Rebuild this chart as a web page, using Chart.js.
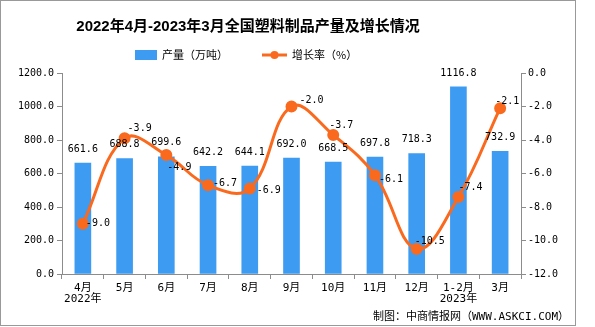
<!DOCTYPE html>
<html>
<head>
<meta charset="utf-8">
<script src="https://cdn.jsdelivr.net/npm/chart.js@4"></script>
<style>
  body { margin: 0; background: #fff; }
  canvas { display: block; }
</style>
</head>
<body>
<canvas id="chart" width="595" height="327"></canvas>
<script>
const months = [['4月', '2022年'], '5月', '6月', '7月', '8月', '9月', '10月', '11月', '12月', ['1-2月', '2023年'], '3月'];
const output = [661.6, 688.8, 699.6, 642.2, 644.1, 692.0, 668.5, 697.8, 718.3, 1116.8, 732.9];
const growth = [-9.0, -3.9, -4.9, -6.7, -6.9, -2.0, -3.7, -6.1, -10.5, -7.4, -2.1];

const BLUE = '#3D9BF2';
const ORANGE = '#FA6A1E';
const AXIS = '#8c8c8c';
const MONO = '"DejaVu Sans Mono", "Noto Sans CJK SC", monospace';

// where each growth label sits relative to its point
const growthLabelOffset = [[3, 0], [3, -10], [1, 12], [5, -2], [7, 2], [8, -6], [-4, -10], [4, 4], [-2, -7], [0, -10], [-5, -7]];

const decorations = {
    id: 'decorations',
    afterDraw(chart) {
        const ctx = chart.ctx;
        ctx.save();
        // frame
        ctx.strokeStyle = '#999';
        ctx.lineWidth = 1;
        ctx.strokeRect(0.5, 0.5, 575, 325);

        // title
        ctx.fillStyle = '#000';
        ctx.font = 'bold 15px "Liberation Sans", "Noto Sans CJK SC", sans-serif';
        ctx.textAlign = 'center';
        ctx.textBaseline = 'middle';
        ctx.fillText('2022年4月-2023年3月全国塑料制品产量及增长情况', 248, 27);

        // legend
        ctx.font = '11px "Noto Sans CJK SC", sans-serif';
        ctx.textAlign = 'left';
        ctx.fillStyle = BLUE;
        ctx.fillRect(135, 50, 22, 10);
        ctx.fillStyle = '#000';
        ctx.fillText('产量（万吨）', 162, 55);
        ctx.strokeStyle = ORANGE;
        ctx.lineWidth = 3;
        ctx.beginPath();
        ctx.moveTo(262, 55);
        ctx.lineTo(287, 55);
        ctx.stroke();
        ctx.fillStyle = ORANGE;
        ctx.beginPath();
        ctx.arc(274.5, 55, 4, 0, Math.PI * 2);
        ctx.fill();
        ctx.fillStyle = '#000';
        ctx.fillText('增长率（%）', 292, 55);

        // source
        ctx.textAlign = 'right';
        ctx.font = '11px ' + MONO;
        ctx.fillText('制图：中商情报网（WWW.ASKCI.COM）', 569, 317);
        ctx.restore();
    },
    afterDatasetsDraw(chart) {
        const ctx = chart.ctx;
        ctx.save();
        ctx.font = '10px ' + MONO;
        ctx.fillStyle = '#000';
        ctx.textBaseline = 'middle';

        ctx.textAlign = 'center';
        chart.getDatasetMeta(1).data.forEach((bar, i) => {
            ctx.fillText(output[i].toFixed(1), bar.x, bar.y - 14);
        });

        ctx.textAlign = 'left';
        chart.getDatasetMeta(0).data.forEach((pt, i) => {
            const [dx, dy] = growthLabelOffset[i];
            ctx.fillText(growth[i].toFixed(1), pt.x + dx, pt.y + dy);
        });
        ctx.restore();
    }
};

new Chart(document.getElementById('chart'), {
    type: 'bar',
    data: {
        labels: months,
        datasets: [{
            type: 'line',
            label: '增长率（%）',
            data: growth,
            yAxisID: 'y1',
            borderColor: ORANGE,
            backgroundColor: ORANGE,
            borderWidth: 3,
            pointRadius: 4.5,
            tension: 0.4,
            order: 0
        }, {
            label: '产量（万吨）',
            data: output,
            yAxisID: 'y',
            backgroundColor: BLUE,
            barThickness: 16,
            order: 1
        }]
    },
    options: {
        responsive: false,
        animation: false,
        devicePixelRatio: 1,
        layout: { padding: { top: 73, left: 0, right: 0, bottom: 0 } },
        plugins: {
            legend: { display: false },
            title: { display: false },
            tooltip: { enabled: false }
        },
        scales: {
            x: {
                afterFit(scale) { scale.height = 53; },
                grid: { drawOnChartArea: false, color: AXIS, tickLength: 5 },
                border: { color: AXIS },
                ticks: {
                    color: '#000',
                    font: { family: MONO, size: 11, lineHeight: 1.0 },
                    padding: 4,
                    maxRotation: 0,
                    autoSkip: false
                }
            },
            y: {
                position: 'left',
                min: 0,
                max: 1200,
                afterFit(scale) { scale.width = 62; },
                grid: { drawOnChartArea: false, color: AXIS, tickLength: 5 },
                border: { color: AXIS },
                ticks: {
                    stepSize: 200,
                    color: '#000',
                    font: { family: MONO, size: 10 },
                    padding: 3,
                    callback: v => v.toFixed(1)
                }
            },
            y1: {
                position: 'right',
                min: -12,
                max: 0,
                afterFit(scale) { scale.width = 74; },
                grid: { drawOnChartArea: false, color: AXIS, tickLength: 5 },
                border: { color: AXIS },
                ticks: {
                    stepSize: 2,
                    color: '#000',
                    font: { family: MONO, size: 10 },
                    padding: 2,
                    callback: v => v.toFixed(1)
                }
            }
        }
    },
    plugins: [decorations]
});
</script>
</body>
</html>
